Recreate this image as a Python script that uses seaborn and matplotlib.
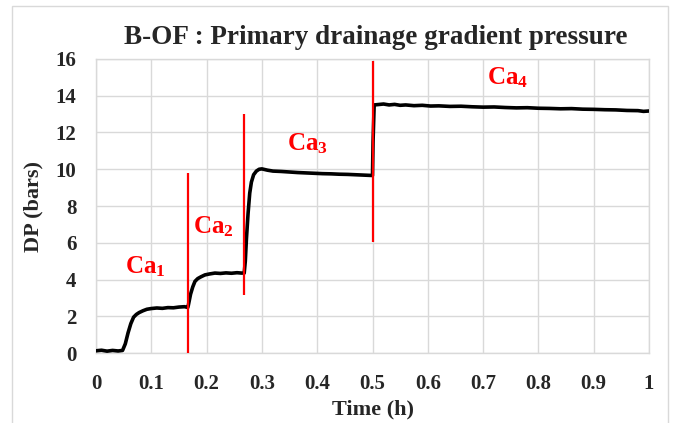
import matplotlib
matplotlib.use("Agg")
import matplotlib.pyplot as plt
import seaborn as sns
import pandas as pd
from matplotlib.patches import Rectangle

time_h = [0, 0.01, 0.02, 0.03, 0.04, 0.048, 0.053, 0.058, 0.063, 0.068, 0.073, 0.078, 0.085, 0.092,
          0.1, 0.11, 0.12, 0.13, 0.14, 0.15, 0.16, 0.166,
          0.167, 0.171, 0.175, 0.179, 0.184, 0.19, 0.197, 0.205, 0.215, 0.225, 0.235, 0.245, 0.255, 0.263, 0.268,
          0.27, 0.272, 0.275, 0.278, 0.281, 0.285, 0.29, 0.295, 0.3, 0.31, 0.32, 0.335, 0.35, 0.365, 0.38,
          0.395, 0.41, 0.425, 0.44, 0.455, 0.47, 0.485, 0.5,
          0.501, 0.503, 0.51, 0.52, 0.53, 0.54, 0.55, 0.56, 0.575, 0.59, 0.605, 0.62, 0.64, 0.66, 0.68, 0.7,
          0.72, 0.74, 0.76, 0.78, 0.8, 0.82, 0.84, 0.86, 0.88, 0.9, 0.92, 0.94, 0.96, 0.98, 0.99, 1.0]
dp_bars = [0.12, 0.15, 0.10, 0.14, 0.11, 0.14, 0.5, 1.1, 1.6, 1.95, 2.1, 2.2, 2.3, 2.38,
           2.42, 2.45, 2.43, 2.47, 2.46, 2.5, 2.52, 2.48,
           2.6, 3.2, 3.6, 3.9, 4.05, 4.15, 4.25, 4.3, 4.35, 4.33, 4.36, 4.34, 4.37, 4.35, 4.35,
           5.0, 6.2, 7.6, 8.7, 9.3, 9.7, 9.9, 10.0, 10.02, 9.95, 9.9, 9.88, 9.85, 9.82, 9.8,
           9.78, 9.76, 9.75, 9.73, 9.72, 9.7, 9.68, 9.66,
           11.5, 13.5, 13.52, 13.55, 13.5, 13.53, 13.48, 13.5, 13.46, 13.48, 13.44, 13.45, 13.42, 13.43, 13.4, 13.38,
           13.39, 13.36, 13.34, 13.35, 13.32, 13.31, 13.29, 13.3, 13.27, 13.26, 13.24, 13.23, 13.2, 13.19, 13.15, 13.17]

split_t = [0.166, 0.268, 0.501]
split_lo = [0.0, 3.15, 6.05]
split_hi = [9.8, 13.0, 15.9]

label_names = ["1", "2", "3", "4"]
label_t = [0.089, 0.212, 0.383, 0.745]
label_y = [4.35, 6.53, 11.05, 14.6]

x_ticks = [0, 0.1, 0.2, 0.3, 0.4, 0.5, 0.6, 0.7, 0.8, 0.9, 1]
x_tick_labels = ["0", "0.1", "0.2", "0.3", "0.4", "0.5", "0.6", "0.7", "0.8", "0.9", "1"]
y_ticks = [0, 2, 4, 6, 8, 10, 12, 14, 16]

sns.set_style("white")
plt.rcParams["font.family"] = ["Liberation Serif", "DejaVu Serif"]
plt.rcParams["mathtext.fontset"] = "custom"
plt.rcParams["mathtext.rm"] = "Liberation Serif:bold"
plt.rcParams["mathtext.bf"] = "Liberation Serif:bold"
plt.rcParams["mathtext.it"] = "Liberation Serif:bold"

fig = plt.figure(figsize=(6.74, 4.23), dpi=100)
ax = fig.add_axes([96 / 674, 1 - 353 / 423, (649 - 96) / 674, (353 - 59) / 423])

fig.patches.append(Rectangle((12.5 / 674, -0.1), (668 - 12.5) / 674, 1.1 - 6 / 423,
                             transform=fig.transFigure, fill=False, edgecolor="#d9d9d9", lw=1))

df = pd.DataFrame({"t": time_h, "dp": dp_bars})
sns.lineplot(data=df, x="t", y="dp", ax=ax, color="black", lw=2.6, zorder=3)

ax.vlines(split_t, split_lo, split_hi, colors="#ff0000", lw=1.6, zorder=4)

for n, tx, ty in zip(label_names, label_t, label_y):
    ax.text(tx, ty, "Ca$_{%s}$" % n, color="#ff0000", fontsize=18, fontweight="bold",
            ha="center", va="baseline", zorder=5)

ax.set_xlim(0, 1)
ax.set_ylim(0, 16)
ax.set_xticks(x_ticks)
ax.set_xticklabels(x_tick_labels)
ax.set_yticks(y_ticks)
ax.grid(True, color="#d9d9d9", lw=1)
for s in ax.spines.values():
    s.set_color("#d9d9d9")
    s.set_linewidth(1)
ax.tick_params(length=0, labelsize=15)
ax.tick_params(axis="x", pad=15)
ax.tick_params(axis="y", pad=14)
for lab in ax.get_xticklabels() + ax.get_yticklabels():
    lab.set_fontweight("bold")

ax.set_xlabel("Time (h)", fontsize=16, fontweight="bold", labelpad=4)
ax.set_ylabel("DP (bars)", fontsize=16, fontweight="bold", labelpad=9)
ax.set_title("B-OF : Primary drainage gradient pressure", fontsize=19.5, fontweight="bold", pad=11, x=0.505)

fig.savefig("out.png", dpi=100)
